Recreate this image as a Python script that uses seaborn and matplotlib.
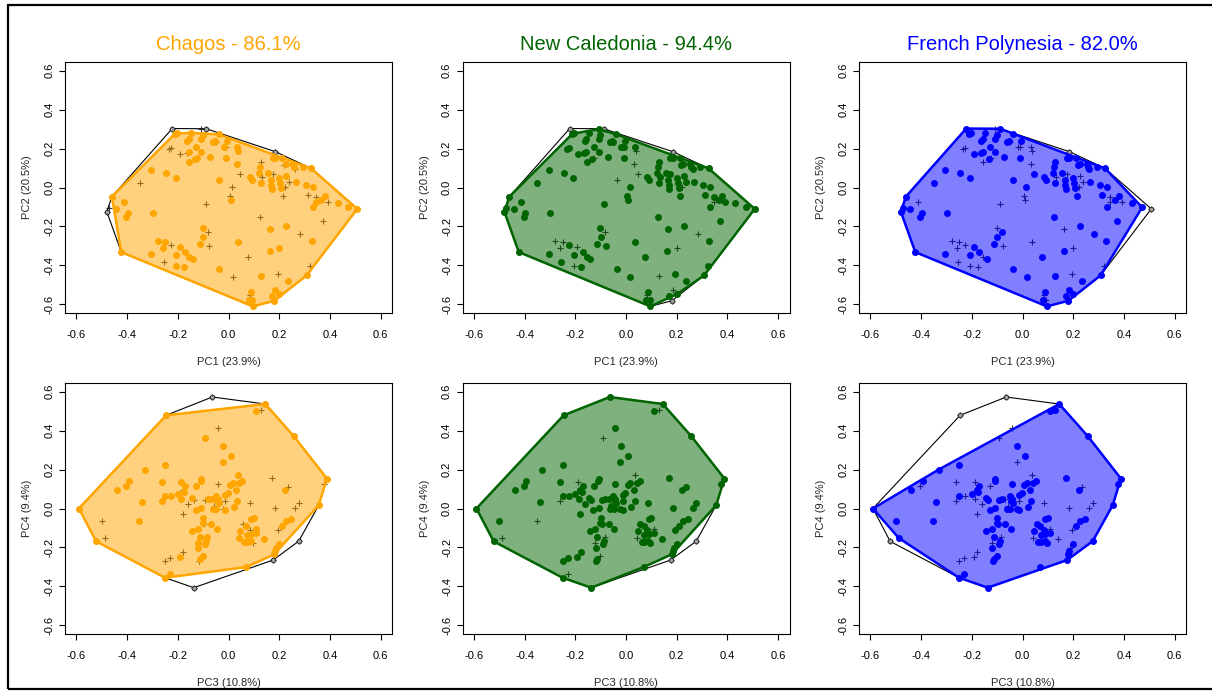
import numpy as np
import pandas as pd
import matplotlib
matplotlib.use("Agg")
import matplotlib.pyplot as plt
import seaborn as sns
from matplotlib.patches import Polygon, Rectangle

# Regions, colours and share of functional space
regions = ["Chagos", "New Caledonia", "French Polynesia"]
region_colors = ["#FFA500", "#006400", "#0000FF"]
region_share = ["86.1%", "94.4%", "82.0%"]

axis_labels = ["PC1 (23.9%)", "PC2 (20.5%)", "PC3 (10.8%)", "PC4 (9.4%)"]
tick_values = [-0.6, -0.4, -0.2, 0.0, 0.2, 0.4, 0.6]
tick_labels = ["-0.6", "-0.4", "-0.2", "0.0", "0.2", "0.4", "0.6"]

# Species scores on PC1 / PC2
pc1 = [-0.222, -0.108, -0.088, -0.213, -0.204, -0.147, -0.101, -0.038, -0.163, -0.156,
       -0.128, -0.108, -0.062, -0.055, -0.051, -0.018, -0.009, -0.005, 0.034, 0.039,
       -0.233, -0.226, -0.191, -0.164, -0.156, -0.134, -0.125, -0.154, -0.108, -0.072,
       -0.009, 0.033, 0.185, 0.175, 0.185, 0.130, 0.212, 0.225, 0.217, 0.254,
       0.258, 0.264, 0.293, 0.326, -0.305, -0.246, -0.209, -0.351, -0.036, 0.047,
       0.083, 0.092, 0.122, 0.126, 0.133, 0.129, 0.156, 0.166, 0.168, 0.171,
       0.175, 0.201, 0.204, 0.208, 0.227, 0.222, 0.238, 0.267, 0.304, 0.333,
       0.014, 0.004, 0.008, 0.214, 0.313, 0.346, 0.379, 0.366, 0.346, 0.333,
       0.392, 0.431, 0.472, 0.508, -0.088, -0.460, -0.413, -0.443, -0.480, -0.472,
       -0.397, -0.404, -0.298, 0.126, 0.164, 0.227, 0.372, 0.284, 0.329, -0.101,
       -0.099, -0.082, -0.078, -0.114, -0.279, -0.249, -0.225, -0.259, -0.193, -0.171,
       -0.206, -0.154, -0.141, -0.305, -0.256, -0.206, -0.176, -0.423, 0.037, 0.076,
       0.162, 0.201, -0.036, 0.017, 0.130, 0.195, 0.235, 0.322, 0.308, 0.088,
       0.084, 0.080, 0.093, 0.096, 0.171, 0.185, 0.201, 0.181]
pc2 = [0.303, 0.300, 0.302, 0.274, 0.278, 0.281, 0.269, 0.273, 0.240, 0.249,
       0.209, 0.249, 0.235, 0.240, 0.232, 0.209, 0.206, 0.240, 0.209, 0.189,
       0.196, 0.201, 0.172, 0.175, 0.180, 0.146, 0.150, 0.132, 0.184, 0.158,
       0.150, 0.121, 0.184, 0.150, 0.150, 0.132, 0.150, 0.121, 0.115, 0.119,
       0.107, 0.095, 0.103, 0.098, 0.090, 0.073, 0.047, 0.025, 0.038, 0.069,
       0.056, 0.038, 0.073, 0.103, 0.052, 0.025, 0.076, 0.038, 0.013, -0.009,
       0.068, 0.047, 0.021, -0.004, 0.061, 0.004, 0.030, 0.030, 0.011, 0.001,
       0.004, -0.044, -0.064, -0.044, -0.038, -0.047, -0.044, -0.064, -0.073, -0.098,
       -0.073, -0.078, -0.102, -0.110, -0.086, -0.047, -0.073, -0.110, -0.124, -0.107,
       -0.132, -0.150, -0.132, -0.150, -0.211, -0.197, -0.172, -0.238, -0.276, -0.209,
       -0.252, -0.230, -0.303, -0.291, -0.274, -0.281, -0.295, -0.312, -0.307, -0.329,
       -0.346, -0.355, -0.365, -0.343, -0.382, -0.406, -0.409, -0.332, -0.278, -0.358,
       -0.326, -0.309, -0.420, -0.462, -0.454, -0.442, -0.483, -0.401, -0.452, -0.538,
       -0.555, -0.580, -0.580, -0.611, -0.556, -0.526, -0.548, -0.582]
pc12_chagos = [0, 0, 0, 1, 1, 1, 1, 1, 1, 1,
               1, 1, 1, 1, 0, 1, 0, 1, 1, 1,
               0, 0, 0, 0, 1, 1, 1, 1, 1, 1,
               1, 1, 0, 1, 1, 0, 1, 1, 0, 1,
               1, 0, 1, 1, 1, 1, 1, 0, 1, 0,
               1, 1, 1, 1, 0, 1, 1, 1, 1, 1,
               0, 1, 1, 1, 1, 0, 0, 1, 1, 1,
               0, 0, 1, 0, 0, 0, 1, 1, 1, 1,
               0, 1, 1, 1, 0, 1, 1, 1, 0, 0,
               1, 1, 1, 0, 1, 1, 0, 0, 1, 1,
               1, 0, 0, 1, 1, 1, 0, 1, 1, 1,
               1, 1, 1, 1, 0, 1, 1, 1, 1, 0,
               1, 1, 1, 0, 1, 0, 1, 0, 1, 1,
               0, 1, 1, 1, 1, 1, 1, 1]
pc12_caledonia = [0, 1, 0, 1, 1, 1, 1, 1, 1, 1,
                  1, 1, 1, 1, 1, 1, 1, 1, 1, 0,
                  1, 1, 1, 1, 1, 1, 0, 1, 1, 1,
                  1, 0, 0, 1, 1, 1, 1, 1, 1, 1,
                  1, 1, 1, 1, 1, 1, 1, 1, 0, 0,
                  1, 1, 1, 1, 1, 1, 1, 1, 1, 1,
                  1, 1, 1, 1, 1, 0, 1, 1, 1, 1,
                  1, 1, 1, 1, 1, 1, 1, 1, 0, 1,
                  1, 1, 1, 1, 1, 1, 1, 1, 1, 1,
                  1, 1, 1, 1, 1, 1, 1, 0, 1, 1,
                  1, 0, 1, 1, 0, 0, 1, 0, 0, 1,
                  1, 1, 1, 1, 1, 0, 1, 1, 1, 1,
                  1, 0, 1, 1, 0, 1, 1, 1, 1, 1,
                  0, 1, 1, 1, 1, 0, 1, 0]
pc12_polynesia = [1, 0, 1, 1, 1, 1, 1, 1, 1, 1,
                  1, 1, 1, 1, 0, 0, 0, 1, 0, 0,
                  0, 0, 1, 1, 1, 1, 0, 0, 1, 1,
                  1, 0, 0, 1, 1, 1, 1, 1, 1, 1,
                  1, 1, 1, 1, 1, 1, 1, 1, 1, 1,
                  1, 1, 1, 1, 0, 1, 1, 1, 1, 1,
                  0, 1, 1, 1, 0, 0, 0, 1, 1, 1,
                  1, 0, 0, 1, 1, 0, 1, 1, 0, 1,
                  0, 1, 1, 0, 0, 1, 0, 1, 1, 1,
                  1, 1, 1, 1, 0, 1, 1, 1, 1, 0,
                  1, 1, 0, 1, 0, 0, 0, 0, 1, 1,
                  1, 0, 1, 1, 0, 0, 0, 1, 0, 1,
                  1, 0, 1, 1, 1, 0, 1, 0, 1, 1,
                  0, 1, 0, 1, 1, 1, 1, 1]

# Species scores on PC3 / PC4
pc3 = [-0.590, -0.522, -0.250, -0.137, 0.070, 0.176, 0.277, 0.356, 0.388, 0.258,
       0.145, -0.064, -0.246, 0.109, 0.129, -0.042, -0.092, -0.020, 0.008, -0.022,
       -0.249, -0.331, -0.394, -0.404, -0.439, -0.341, -0.352, -0.501, -0.488, -0.262,
       -0.262, -0.250, -0.226, -0.200, -0.189, -0.170, -0.174, -0.187, -0.180, -0.160,
       -0.145, -0.138, -0.128, -0.108, -0.110, -0.093, -0.082, -0.068, -0.051, -0.042,
       -0.045, -0.038, -0.059, -0.062, -0.049, -0.012, -0.013, -0.022, -0.130, -0.108,
       -0.042, -0.012, -0.003, 0.007, 0.017, 0.037, 0.043, 0.054, 0.030, 0.034,
       0.020, 0.085, -0.180, -0.099, -0.101, -0.095, -0.068, -0.046, -0.121, -0.143,
       -0.114, -0.083, -0.088, -0.122, -0.091, -0.120, -0.101, -0.114, -0.117, -0.178,
       -0.193, -0.229, -0.249, -0.229, 0.057, 0.070, 0.089, 0.099, 0.083, 0.046,
       0.072, 0.089, 0.109, 0.109, 0.043, 0.063, 0.072, 0.096, 0.087, 0.142,
       0.171, 0.185, 0.195, 0.210, 0.225, 0.246, 0.264, 0.277, 0.235, 0.222,
       0.201, 0.188, 0.185, 0.180, 0.376]
pc4 = [0.000, -0.169, -0.356, -0.407, -0.301, -0.265, -0.168, 0.017, 0.154, 0.371,
       0.537, 0.573, 0.479, 0.499, 0.508, 0.414, 0.362, 0.320, 0.270, 0.241,
       0.226, 0.200, 0.140, 0.115, 0.094, 0.034, -0.062, -0.062, -0.152, 0.135,
       0.038, 0.062, 0.062, 0.072, 0.137, 0.115, 0.084, 0.051, 0.097, 0.021,
       0.055, 0.046, 0.118, 0.152, 0.140, 0.046, 0.050, 0.051, 0.063, 0.051,
       0.038, 0.029, 0.012, -0.005, 0.000, -0.009, 0.038, -0.002, -0.009, 0.003,
       0.126, 0.068, 0.080, 0.123, 0.132, 0.171, 0.130, 0.140, 0.097, 0.038,
       0.010, 0.026, -0.026, -0.048, -0.077, -0.079, -0.082, -0.104, -0.103, -0.116,
       -0.147, -0.144, -0.168, -0.176, -0.183, -0.203, -0.244, -0.262, -0.270, -0.224,
       -0.250, -0.256, -0.270, -0.335, -0.079, -0.091, -0.056, -0.051, -0.113, -0.116,
       -0.137, -0.133, -0.104, -0.125, -0.150, -0.173, -0.173, -0.176, -0.168, -0.156,
       0.157, 0.003, -0.113, -0.091, -0.065, -0.056, 0.003, 0.026, 0.111, 0.094,
       -0.181, -0.202, -0.219, -0.236, 0.126]
pc34_chagos = [1, 1, 1, 0, 1, 0, 0, 1, 1, 1,
               1, 0, 1, 1, 0, 0, 1, 1, 1, 1,
               1, 1, 1, 1, 1, 1, 1, 0, 0, 1,
               1, 1, 1, 1, 1, 1, 1, 1, 0, 0,
               1, 0, 1, 1, 1, 0, 1, 1, 1, 1,
               1, 1, 0, 1, 1, 1, 0, 0, 1, 1,
               0, 1, 1, 1, 1, 1, 1, 1, 1, 1,
               1, 0, 0, 1, 1, 0, 1, 1, 1, 1,
               1, 1, 1, 1, 1, 1, 1, 1, 0, 0,
               1, 0, 0, 1, 0, 1, 1, 1, 0, 1,
               1, 1, 1, 1, 1, 1, 1, 0, 1, 1,
               0, 0, 0, 1, 1, 1, 0, 0, 0, 1,
               1, 1, 1, 1, 0]
pc34_caledonia = [1, 1, 1, 1, 1, 0, 0, 1, 1, 1,
                  1, 1, 1, 1, 0, 1, 0, 1, 1, 1,
                  1, 1, 1, 1, 1, 1, 0, 1, 0, 1,
                  0, 1, 1, 1, 0, 1, 1, 1, 1, 1,
                  1, 1, 1, 1, 1, 1, 1, 1, 1, 1,
                  1, 1, 1, 1, 1, 1, 1, 1, 1, 1,
                  1, 1, 1, 1, 1, 0, 1, 1, 1, 1,
                  1, 1, 1, 1, 1, 1, 1, 1, 1, 1,
                  1, 0, 1, 0, 1, 1, 0, 1, 1, 1,
                  1, 1, 1, 0, 1, 1, 1, 1, 1, 1,
                  1, 1, 0, 1, 0, 1, 1, 1, 1, 1,
                  1, 1, 1, 1, 1, 1, 1, 1, 1, 1,
                  1, 1, 1, 1, 1]
pc34_polynesia = [1, 0, 1, 1, 1, 1, 1, 1, 1, 1,
                  1, 0, 0, 1, 1, 0, 0, 1, 1, 0,
                  1, 1, 1, 0, 1, 1, 1, 1, 1, 0,
                  0, 1, 0, 1, 0, 1, 1, 0, 1, 0,
                  1, 1, 0, 1, 1, 1, 1, 0, 1, 1,
                  1, 1, 0, 1, 1, 1, 0, 1, 1, 1,
                  1, 1, 1, 1, 1, 0, 1, 1, 1, 1,
                  1, 0, 0, 1, 1, 1, 1, 1, 1, 1,
                  1, 0, 1, 0, 1, 1, 1, 1, 1, 0,
                  0, 0, 0, 1, 1, 1, 1, 1, 1, 1,
                  1, 1, 0, 1, 0, 1, 1, 1, 1, 0,
                  1, 0, 0, 1, 1, 1, 0, 0, 0, 1,
                  1, 0, 1, 1, 1]


def convex_hull(points):
    """Monotone-chain convex hull, returned counter-clockwise."""
    pts = sorted(set(map(tuple, np.asarray(points, dtype=float))))
    if len(pts) < 3:
        return np.array(pts)

    def cross(o, a, b):
        return (a[0] - o[0]) * (b[1] - o[1]) - (a[1] - o[1]) * (b[0] - o[0])

    lower, upper = [], []
    for p in pts:
        while len(lower) >= 2 and cross(lower[-2], lower[-1], p) <= 0:
            lower.pop()
        lower.append(p)
    for p in reversed(pts):
        while len(upper) >= 2 and cross(upper[-2], upper[-1], p) <= 0:
            upper.pop()
        upper.append(p)
    return np.array(lower[:-1] + upper[:-1])


sns.set_style("white")
plt.rcParams["font.family"] = ["Liberation Sans", "DejaVu Sans"]
plt.rcParams["axes.unicode_minus"] = False
plt.rcParams["axes.edgecolor"] = "black"
plt.rcParams["axes.linewidth"] = 0.8

W, H = 1212, 691
fig = plt.figure(figsize=(W / 100, H / 100), dpi=100)

col_left = [65, 462.5, 859]
col_width = 327
row_top = [62, 383]
row_height = 251


def draw_panel(ax, x, y, member, color):
    df = pd.DataFrame({"x": x, "y": y, "member": member})
    # every species of the pool, as crosses
    sns.scatterplot(data=df, x="x", y="y", marker="+", color="#333333", s=24,
                    linewidth=0.8, ax=ax, zorder=2, legend=False)
    # hull of the whole pool
    hv = convex_hull(df[["x", "y"]].to_numpy())
    closed = np.vstack([hv, hv[:1]])
    ax.plot(closed[:, 0], closed[:, 1], color="black", lw=0.8, zorder=3)
    ax.scatter(hv[:, 0], hv[:, 1], s=11, facecolor="#a0a0a0", edgecolor="#2a2a2a",
               linewidths=0.7, zorder=3)
    # hull of the regional assemblage
    sub = df[df["member"] == 1]
    rh = convex_hull(sub[["x", "y"]].to_numpy())
    ax.add_patch(Polygon(rh, closed=True, facecolor=color, alpha=0.5,
                         edgecolor="none", zorder=4))
    ax.add_patch(Polygon(rh, closed=True, fill=False, edgecolor=color,
                         lw=1.8, joinstyle="round", zorder=5))
    sns.scatterplot(data=sub, x="x", y="y", color=color, s=25, linewidth=0,
                    ax=ax, zorder=6, legend=False)


top_members = [pc12_chagos, pc12_caledonia, pc12_polynesia]
bottom_members = [pc34_chagos, pc34_caledonia, pc34_polynesia]

for r in range(2):
    for c in range(3):
        ax = fig.add_axes([col_left[c] / W, 1 - (row_top[r] + row_height) / H,
                           col_width / W, row_height / H])
        if r == 0:
            draw_panel(ax, pc1, pc2, top_members[c], region_colors[c])
            xl, yl = axis_labels[0], axis_labels[1]
            ax.set_title(f"{regions[c]} - {region_share[c]}", color=region_colors[c],
                         fontsize=14.5, pad=9)
        else:
            draw_panel(ax, pc3, pc4, bottom_members[c], region_colors[c])
            xl, yl = axis_labels[2], axis_labels[3]
        ax.set_xlim(-0.645, 0.645)
        ax.set_ylim(-0.645, 0.645)
        ax.set_xticks(tick_values)
        ax.set_xticklabels(tick_labels)
        ax.set_yticks(tick_values)
        ax.set_yticklabels(tick_labels, rotation=90, va="center")
        ax.tick_params(axis="both", direction="out", length=4.5, width=0.8,
                       labelsize=8, colors="black", bottom=True, left=True)
        ax.tick_params(axis="x", pad=8)
        ax.tick_params(axis="y", pad=3)
        ax.set_xlabel(xl, fontsize=8, labelpad=12)
        ax.set_ylabel(yl, fontsize=8, labelpad=9)
        for s in ax.spines.values():
            s.set_visible(True)
            s.set_color("black")
            s.set_linewidth(0.8)

# outer frame
fig.patches.append(Rectangle((8 / W, 2 / H), 1.2, 684 / H, transform=fig.transFigure,
                             fill=False, edgecolor="black", lw=1.6, zorder=10))

fig.savefig("out.png", dpi=100)
